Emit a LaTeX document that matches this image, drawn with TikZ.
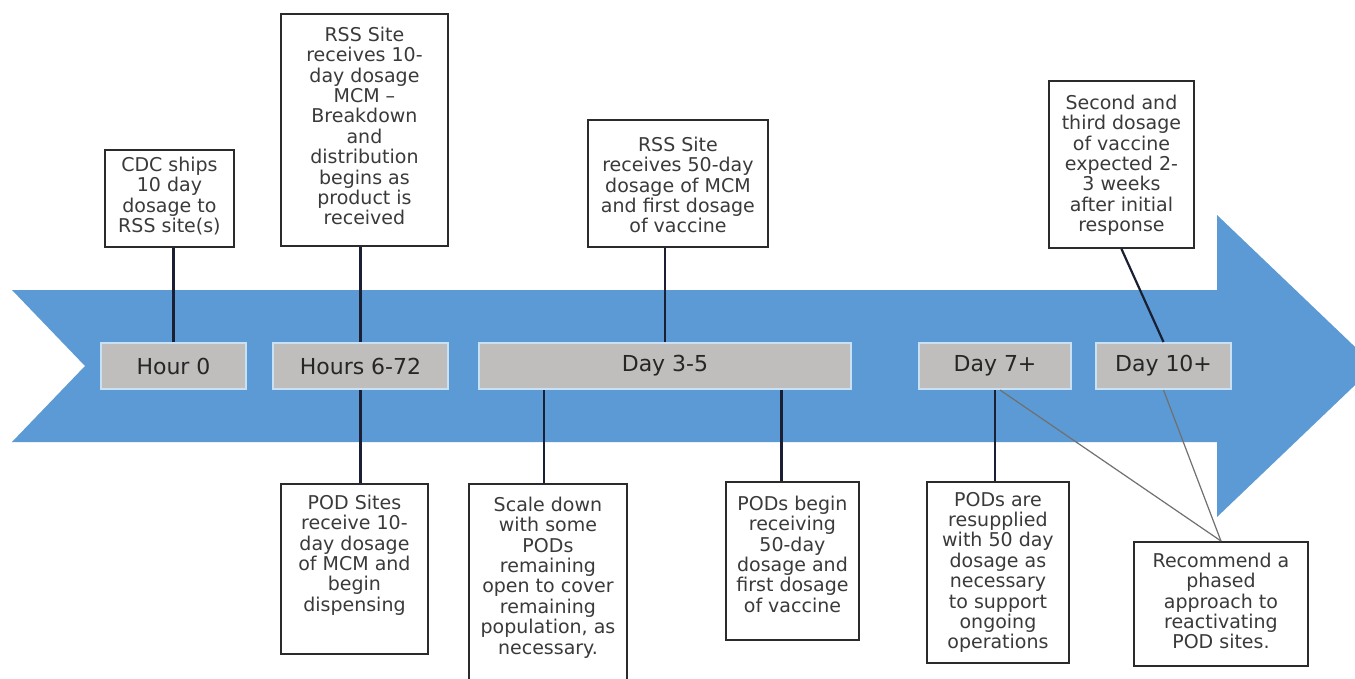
\documentclass[tikz,border=0pt]{standalone}
\usepackage{fontspec}
\setmainfont{DejaVu Sans}
\usetikzlibrary{calc}
\definecolor{arrowblue}{HTML}{5B9AD5}
\definecolor{lblfill}{HTML}{BFBEBD}
\definecolor{lbledge}{HTML}{C9E1F5}
\definecolor{boxedge}{HTML}{2B2B2B}
\definecolor{boxtext}{HTML}{3A3A3A}
\definecolor{lbltext}{HTML}{262626}
\definecolor{linkcol}{HTML}{1A1F33}
\definecolor{thinlink}{HTML}{707070}
\newcommand\cbtext[4]{\parbox[c][#2pt][t]{#1pt}{\parskip=0pt\vspace*{#3pt}\centering #4\par}}
\tikzset{
  callout/.style={draw=boxedge, line width=1.9pt, fill=white, inner sep=0pt, anchor=north west,
    text=boxtext, font=\fontsize{19}{20.4}\selectfont},
  lbl/.style={fill=lblfill, draw=lbledge, line width=2pt, text=lbltext, inner sep=0pt,
    minimum height=46pt, font=\fontsize{22}{24}\selectfont},
  connector/.style={draw=linkcol, line width=2.2pt},
  faintconn/.style={draw=thinlink, line width=1.2pt}
}
\begin{document}
\begin{tikzpicture}[x=1pt,y=-1pt]
\clip (0,0) rectangle (1355,679);
\fill[white] (0,0) rectangle (1355,679);
% big chevron arrow
\fill[arrowblue] (12,290) -- (1217,290) -- (1217,215) -- (1375,366) -- (1217,517)
  -- (1217,442) -- (12,442) -- (85,366) -- cycle;
% time labels
\node[lbl, minimum width=145pt] (hour0) at (173.5,366) {Hour 0};
\node[lbl, minimum width=175pt] (hours) at (360.5,366) {Hours 6-72};
\node[lbl, minimum width=372pt] (day35) at (665,366) {Day 3-5};
\node[lbl, minimum width=152pt] (day7) at (995,366) {Day 7+};
\node[lbl, minimum width=135pt] (day10) at (1163.5,366) {Day 10+};
% callouts above
\node[callout] (cdc) at (104,149) {\cbtext{129}{97}{7}{CDC ships\\10 day\\dosage to\\RSS site(s)}};
\node[callout] (rss1) at (280,13) {\cbtext{167}{232}{13}{RSS Site\\receives 10-\\day dosage\\MCM –\\Breakdown\\and\\distribution\\begins as\\product is\\received}};
\node[callout] (rss50) at (587,119) {\cbtext{180}{127}{17}{RSS Site\\receives 50-day\\dosage of MCM\\and first dosage\\of vaccine}};
\node[callout] (second) at (1048,80) {\cbtext{145}{167}{14}{Second and\\third dosage\\of vaccine\\expected 2-\\3 weeks\\after initial\\response}};
% callouts below
\node[callout] (podsites) at (280,483) {\cbtext{147}{170}{11}{POD Sites\\receive 10-\\day dosage\\of MCM and\\begin\\dispensing}};
\node[callout] (scaledown) at (468,483) {\cbtext{158}{220}{13}{Scale down\\with some\\PODs\\remaining\\open to cover\\remaining\\population, as\\necessary.}};
\node[callout] (podsbegin) at (725,481) {\cbtext{133}{158}{14}{PODs begin\\receiving\\50-day\\dosage and\\first dosage\\of vaccine}};
\node[callout] (podsare) at (926,481) {\cbtext{142}{181}{10}{PODs are\\resupplied\\with 50 day\\dosage as\\necessary\\to support\\ongoing\\operations}};
\node[callout] (recommend) at (1133,541) {\cbtext{174}{124}{11}{Recommend a\\phased\\approach to\\reactivating\\POD sites.}};
% connectors
\draw[connector] (hour0.north) -- (hour0.north |- cdc.south);
\draw[connector] (hours.north) -- (hours.north |- rss1.south);
\draw[connector] (day35.north) -- (day35.north |- rss50.south);
\draw[connector] (second.south) -- (day10.north);
\draw[connector] (hours.south) -- (hours.south |- podsites.north);
\draw[connector] ([xshift=-4pt]scaledown.north |- day35.south) -- ([xshift=-4pt]scaledown.north);
\draw[connector] ([xshift=-11pt]podsbegin.north |- day35.south) -- ([xshift=-11pt]podsbegin.north);
\draw[connector] (day7.south) -- (day7.south |- podsare.north);
\draw[faintconn] ([xshift=5pt]day7.south) -- (recommend.north);
\draw[faintconn] (day10.south) -- (recommend.north);
\end{tikzpicture}
\end{document}
